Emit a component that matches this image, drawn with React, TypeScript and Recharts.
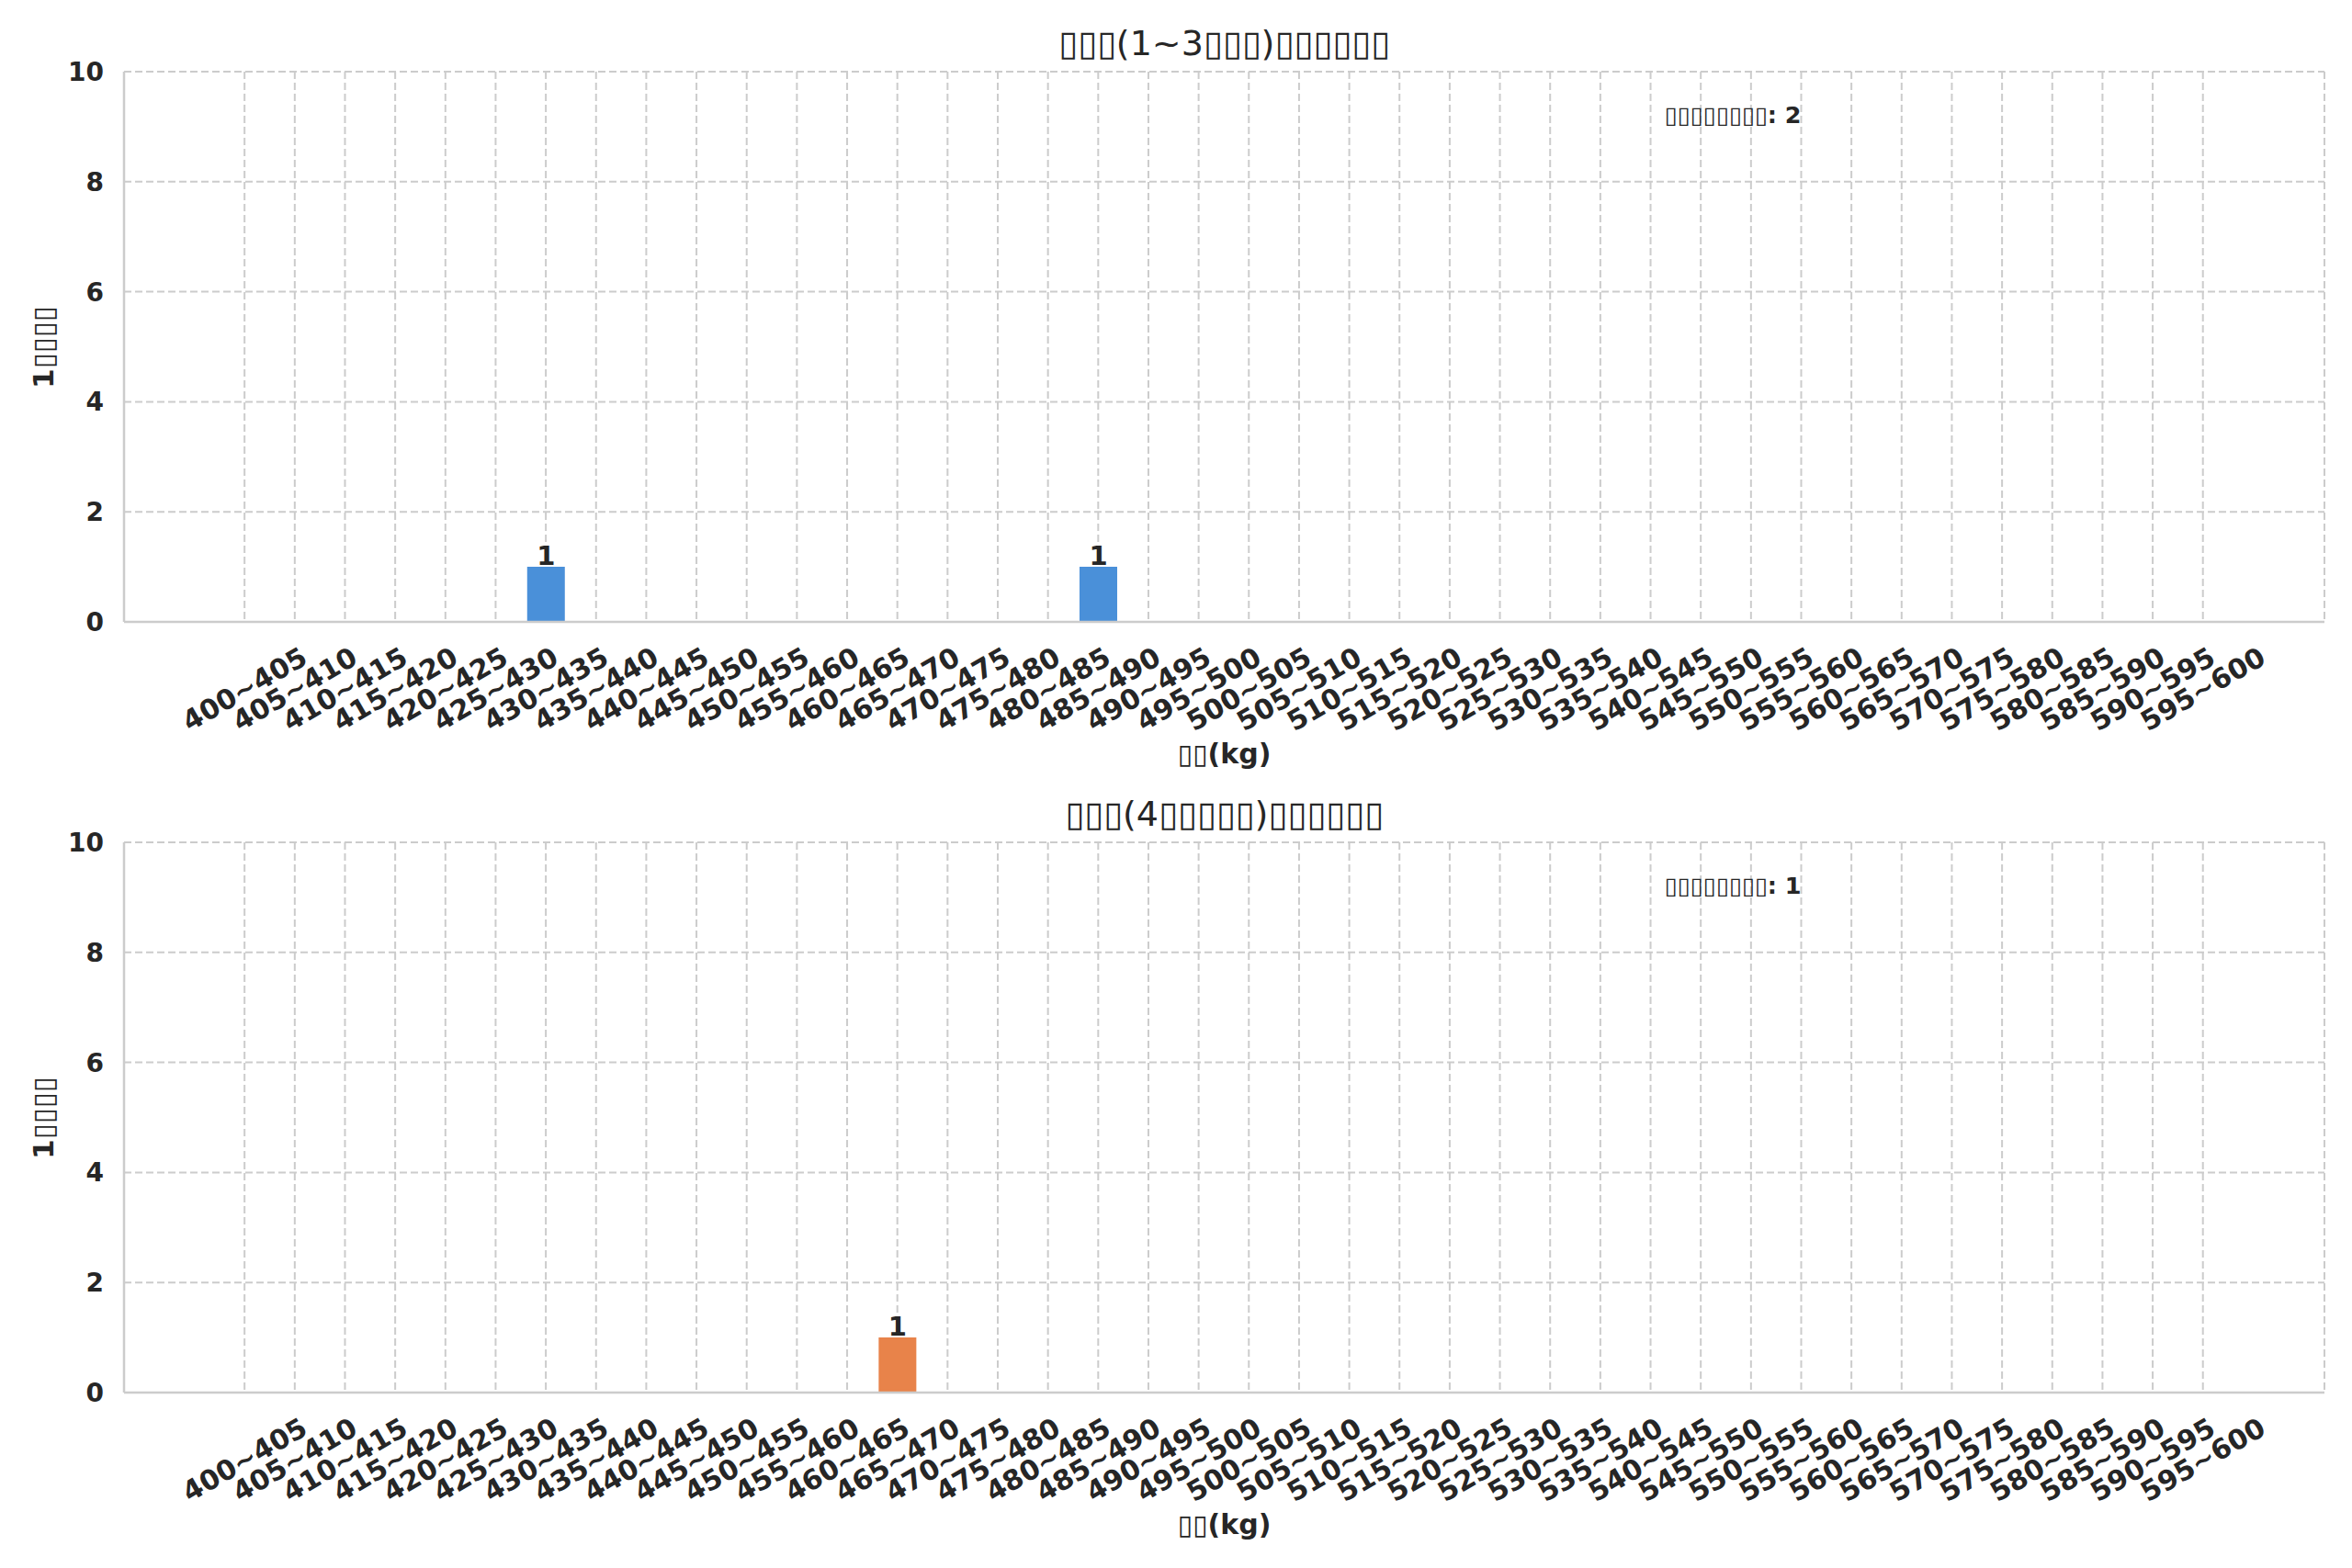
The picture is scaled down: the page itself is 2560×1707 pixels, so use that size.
import React from 'react';
import { BarChart, Bar, XAxis, YAxis, CartesianGrid, LabelList } from 'recharts';

// weight bins (5 kg wide)
const binLabels = [
  '400~405', '405~410', '410~415', '415~420', '420~425', '425~430', '430~435', '435~440',
  '440~445', '445~450', '450~455', '455~460', '460~465', '465~470', '470~475', '475~480',
  '480~485', '485~490', '490~495', '495~500', '500~505', '505~510', '510~515', '515~520',
  '520~525', '525~530', '530~535', '535~540', '540~545', '545~550', '550~555', '555~560',
  '560~565', '565~570', '570~575', '575~580', '580~585', '585~590', '590~595', '595~600',
];

const earlyCounts = [
  0, 0, 0, 0, 0, 0, 1, 0, 0, 0, 0, 0, 0, 0, 0, 0, 0, 1, 0, 0,
  0, 0, 0, 0, 0, 0, 0, 0, 0, 0, 0, 0, 0, 0, 0, 0, 0, 0, 0, 0,
];

const lateCounts = [
  0, 0, 0, 0, 0, 0, 0, 0, 0, 0, 0, 0, 0, 1, 0, 0, 0, 0, 0, 0,
  0, 0, 0, 0, 0, 0, 0, 0, 0, 0, 0, 0, 0, 0, 0, 0, 0, 0, 0, 0,
];

const yTicks = [0, 2, 4, 6, 8, 10];
const xTicks = binLabels.map((_, i) => i);

const panels = [
  { title: '▯▯▯(1~3▯▯▯)▯▯▯▯▯▯', counts: earlyCounts, color: '#4a90d9', total: 2, top: 0 },
  { title: '▯▯▯(4▯▯▯▯▯)▯▯▯▯▯▯', counts: lateCounts, color: '#e8834a', total: 1, top: 839 },
];

const FONT = '"DejaVu Sans", sans-serif';
const TEXT = '#262626';
const GRID = '#cccccc';

const W = 2560;
const H = 853;
const PLOT_TOP = 78;
const PLOT_LEFT = 135;
const PLOT_RIGHT = 30;
const XAXIS_H = 176;

const XTick = ({ x, y, payload }: any) => (
  <g transform={`translate(${x},${y + 71})`}>
    <text
      transform="rotate(-30)"
      textAnchor="middle"
      dominantBaseline="central"
      fontSize={30}
      fontWeight="bold"
      fontFamily={FONT}
      fill={TEXT}
    >
      {binLabels[payload.value]}
    </text>
  </g>
);

const BarValue = ({ x, y, width, value }: any) => {
  if (!value) return null;
  return (
    <text
      x={Number(x) + Number(width) / 2}
      y={Number(y) - 2}
      textAnchor="middle"
      fontSize={29}
      fontWeight="bold"
      fontFamily={FONT}
      fill={TEXT}
    >
      {value}
    </text>
  );
};

function Panel({ title, counts, color, total, top }: any) {
  const data = binLabels.map((label, i) => ({ idx: i, label, count: counts[i] }));
  const plotH = H - PLOT_TOP - XAXIS_H;
  const plotW = W - PLOT_LEFT - PLOT_RIGHT;
  return (
    <div style={{ position: 'absolute', left: 0, top, width: W, height: H }}>
      <BarChart
        width={W}
        height={H}
        data={data}
        margin={{ top: PLOT_TOP, right: PLOT_RIGHT, bottom: 0, left: 0 }}
      >
        <CartesianGrid stroke={GRID} strokeWidth={2} strokeDasharray="8 4" />
        <XAxis
          dataKey="idx"
          type="number"
          domain={[-2.4, 41.42]}
          ticks={xTicks}
          interval={0}
          height={XAXIS_H}
          tick={<XTick />}
          tickLine={false}
          tickSize={0}
          axisLine={{ stroke: GRID, strokeWidth: 2.5 }}
        />
        <XAxis
          xAxisId="top"
          orientation="top"
          dataKey="idx"
          type="number"
          domain={[-2.4, 41.42]}
          height={0}
          tick={false}
          tickLine={false}
          axisLine={{ stroke: GRID, strokeWidth: 2.5 }}
        />
        <YAxis
          domain={[0, 10]}
          ticks={yTicks}
          width={PLOT_LEFT}
          tickLine={false}
          tickSize={0}
          tickMargin={22}
          axisLine={{ stroke: GRID, strokeWidth: 2.5 }}
          tick={{ fontSize: 28, fontWeight: 'bold', fontFamily: FONT, fill: TEXT }}
        />
        <YAxis
          yAxisId="right"
          orientation="right"
          domain={[0, 10]}
          width={0}
          tick={false}
          tickLine={false}
          axisLine={{ stroke: GRID, strokeWidth: 2.5 }}
        />
        <Bar dataKey="count" fill={color} barSize={41} isAnimationActive={false}>
          <LabelList dataKey="count" content={<BarValue />} />
        </Bar>
      </BarChart>
      <div
        style={{
          position: 'absolute', left: PLOT_LEFT, width: plotW, top: 47 - 24, height: 48,
          lineHeight: '48px', textAlign: 'center', fontFamily: FONT, fontSize: 38, color: TEXT,
        }}
      >
        {title}
      </div>
      <div
        style={{
          position: 'absolute', left: PLOT_LEFT, width: plotW, top: 821 - 20, height: 40,
          lineHeight: '40px', textAlign: 'center', fontFamily: FONT, fontSize: 30,
          fontWeight: 'bold', color: TEXT,
        }}
      >
        ▯▯(kg)
      </div>
      <div
        style={{
          position: 'absolute', left: 47 - 100, top: PLOT_TOP + plotH / 2 - 20, width: 200, height: 40,
          lineHeight: '40px', textAlign: 'center', fontFamily: FONT, fontSize: 31,
          fontWeight: 'bold', color: TEXT, transform: 'rotate(-90deg)',
        }}
      >
        1▯▯▯▯
      </div>
      <div
        style={{
          position: 'absolute', left: PLOT_LEFT + 0.7 * plotW, top: PLOT_TOP + 0.1 * plotH - 30,
          height: 34, lineHeight: '34px', fontFamily: FONT, fontSize: 25.5, fontWeight: 'bold',
          color: TEXT, whiteSpace: 'nowrap',
        }}
      >
        ▯▯▯▯▯▯▯▯: {total}
      </div>
    </div>
  );
}

export default function App() {
  return (
    <div style={{ position: 'absolute', left: 0, top: 0, width: W, height: 1707, background: '#fff' }}>
      {panels.map((p) => (
        <Panel key={p.top} {...p} />
      ))}
    </div>
  );
}
